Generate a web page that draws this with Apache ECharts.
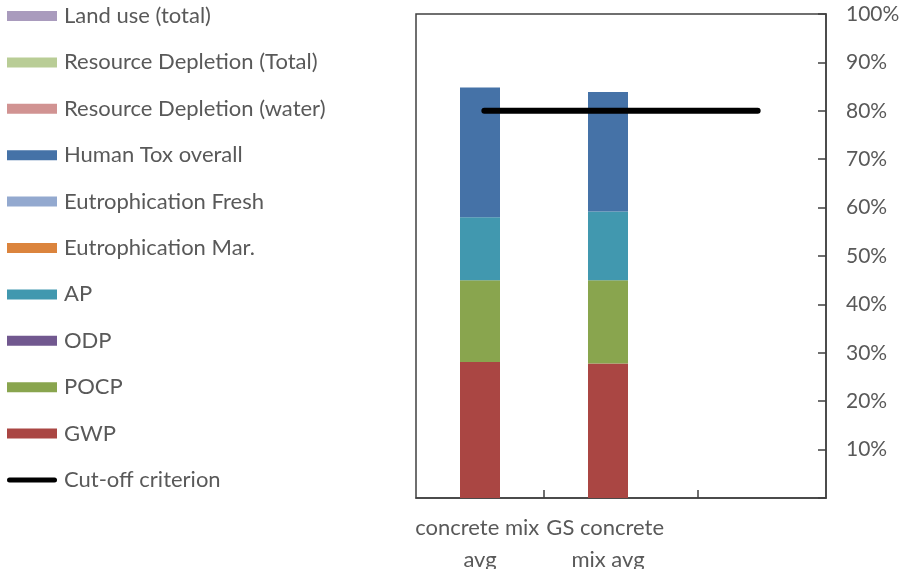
<!DOCTYPE html>
<html>
<head>
<meta charset="utf-8">
<script src="https://cdn.jsdelivr.net/npm/echarts@6/dist/echarts.min.js"></script>
<style>
  html, body { margin: 0; padding: 0; background: #fff; }
  #chart { width: 902px; height: 569px; }
</style>
</head>
<body>
<div id="chart"></div>
<script>
// Mixes compared (third slot left empty)
const categories = ['concrete mix avg', 'GS concrete mix avg', ''];

// Share of each impact category (%), stacked bottom to top
const gwp        = [28.1, 27.8, null];
const pocp       = [16.9, 17.2, null];
const odp        = [0, 0, null];
const ap         = [13.0, 14.2, null];
const eutroMar   = [0, 0, null];
const eutroFresh = [0, 0, null];
const humanTox   = [26.8, 24.7, null];
const resWater   = [0, 0, null];
const resTotal   = [0, 0, null];
const landUse    = [0, 0, null];

// Cut-off criterion (%)
const cutoff = [80, 80, 80];

// Y axis ticks (%)
const yTicks = { min: 0, max: 100, step: 10 };

// Bottom-axis tick marks (in category units)
const tickMarks = [1, 2.2];

const stackSeries = [
  { name: 'GWP', data: gwp, color: '#AA4643' },
  { name: 'POCP', data: pocp, color: '#89A54E' },
  { name: 'ODP', data: odp, color: '#71588F' },
  { name: 'AP', data: ap, color: '#4198AF' },
  { name: 'Eutrophication Mar.', data: eutroMar, color: '#DB843D' },
  { name: 'Eutrophication Fresh', data: eutroFresh, color: '#93A9CF' },
  { name: 'Human Tox overall', data: humanTox, color: '#4572A7' },
  { name: 'Resource Depletion (water)', data: resWater, color: '#D19392' },
  { name: 'Resource Depletion (Total)', data: resTotal, color: '#B9CD96' },
  { name: 'Land use (total)', data: landUse, color: '#A99BBD' }
];

const FONT = 'Lato';
const TEXT = '#595959';
const AXIS = '#404040';

// Frame grid (axes, ticks, cut-off line) and bar grid (three 128px bands)
const PLOT = { left: 416, right: 76, top: 14, bottom: 71 };
const BAND = 128;

// Thick rounded stroke used as the cut-off legend key
const LINE_ICON = 'path://M3,0 H57 A3,3 0 0 1 57,6 H3 A3,3 0 0 1 3,0 Z';

const series = stackSeries.map(s => ({
  name: s.name,
  type: 'bar',
  stack: 'total',
  xAxisIndex: 2,
  yAxisIndex: 1,
  barWidth: 40,
  itemStyle: { color: s.color },
  data: s.data
}));

series.push({
  name: 'Cut-off criterion',
  type: 'line',
  xAxisIndex: 1,
  yAxisIndex: 0,
  symbol: 'none',
  lineStyle: { color: '#000', width: 6, cap: 'round' },
  itemStyle: { color: '#000' },
  data: cutoff,
  z: 5
});

const legendOrder = stackSeries.map(s => s.name).reverse().concat(['Cut-off criterion']);

const chart = echarts.init(document.getElementById('chart'));
chart.setOption({
  animation: false,
  backgroundColor: '#fff',
  textStyle: { fontFamily: FONT },
  grid: [
    {
      left: PLOT.left, right: PLOT.right, top: PLOT.top, bottom: PLOT.bottom,
      outerBoundsMode: 'none', containLabel: false,
      show: true, borderColor: AXIS, borderWidth: 1.5
    },
    {
      left: PLOT.left, width: BAND * categories.length, top: PLOT.top, bottom: PLOT.bottom,
      outerBoundsMode: 'none', containLabel: false
    }
  ],
  legend: {
    orient: 'vertical',
    left: 7, top: 4,
    padding: 0,
    itemWidth: 50, itemHeight: 10,
    itemGap: 22.4,
    data: legendOrder.map(n => n === 'Cut-off criterion'
      ? { name: n, icon: LINE_ICON, itemStyle: { color: '#000' } }
      : { name: n, icon: 'rect' }),
    textStyle: { fontFamily: FONT, fontSize: 22, color: TEXT, lineHeight: 24, padding: [0, 0, 0, 2] },
    selectedMode: false
  },
  xAxis: [
    {
      gridIndex: 0,
      type: 'value',
      min: 0,
      max: 3.2,
      position: 'bottom',
      axisLine: { show: true, onZero: false, lineStyle: { color: AXIS, width: 1.5 } },
      axisTick: { show: true, inside: true, length: 8, customValues: tickMarks, lineStyle: { color: AXIS, width: 1.5 } },
      axisLabel: { show: false },
      splitLine: { show: false }
    },
    {
      gridIndex: 0,
      type: 'category',
      data: cutoff.map(() => ''),
      boundaryGap: true,
      show: false
    },
    {
      gridIndex: 1,
      type: 'category',
      data: categories,
      boundaryGap: true,
      axisLine: { show: false },
      axisTick: { show: false },
      axisLabel: {
        interval: 0,
        fontFamily: FONT, fontSize: 22, color: TEXT,
        lineHeight: 32, margin: 14,
        width: 140, overflow: 'break', align: 'center'
      },
      splitLine: { show: false }
    }
  ],
  yAxis: [
    {
      gridIndex: 0,
      type: 'value',
      position: 'right',
      min: yTicks.min,
      max: yTicks.max,
      interval: yTicks.step,
      axisLine: { show: true, onZero: false, lineStyle: { color: AXIS, width: 1.5 } },
      axisTick: { show: true, inside: true, length: 8, lineStyle: { color: AXIS, width: 1.5 } },
      axisLabel: {
        formatter: v => (v === 0 ? '' : v + '%'),
        fontFamily: FONT, fontSize: 21, color: TEXT, margin: 20, align: 'left'
      },
      splitLine: { show: false }
    },
    {
      gridIndex: 1,
      type: 'value',
      min: yTicks.min,
      max: yTicks.max,
      interval: yTicks.step,
      show: false
    }
  ],
  series: series
});
</script>
</body>
</html>
